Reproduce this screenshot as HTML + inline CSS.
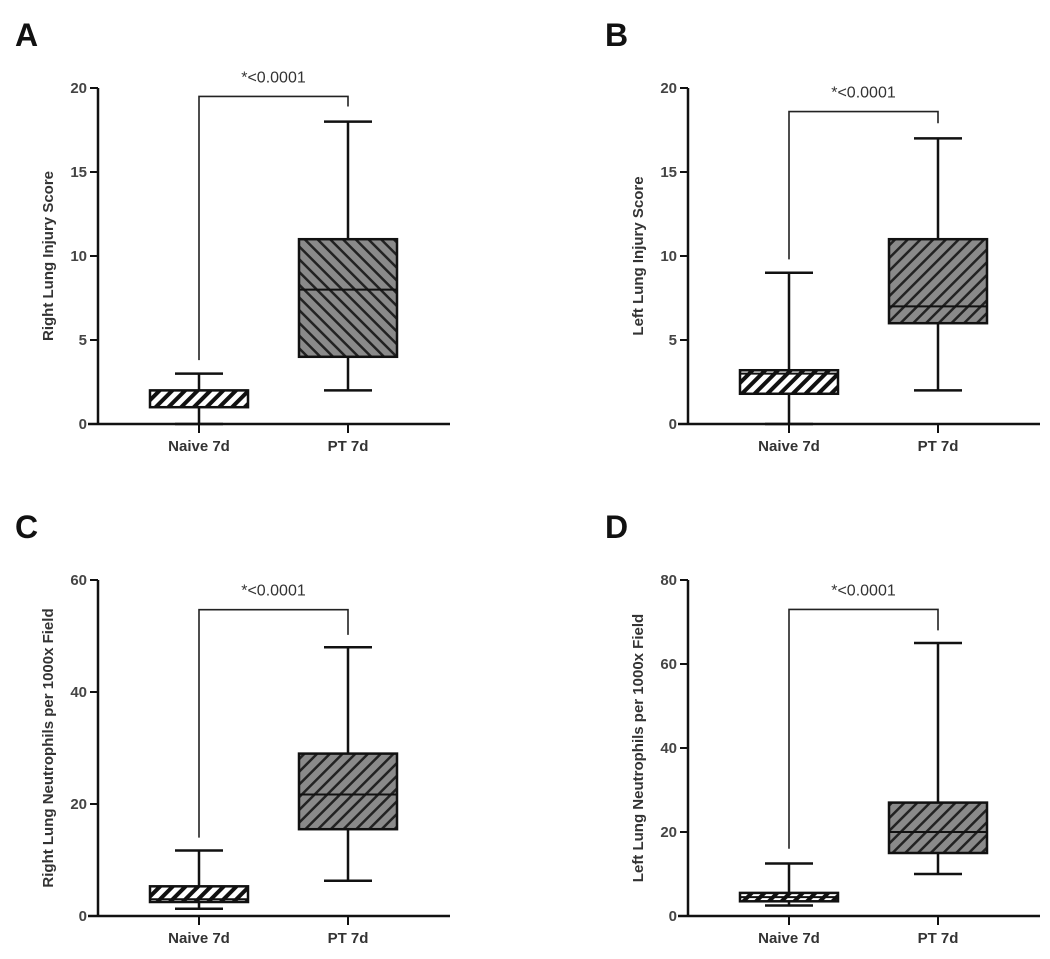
<!DOCTYPE html>
<html><head><meta charset="utf-8"><style>
html,body{margin:0;padding:0;background:#fff;width:1050px;height:959px;overflow:hidden}
svg{display:block}
text{font-family:"Liberation Sans",sans-serif}
</style></head><body>
<svg id="fig" width="1050" height="959" viewBox="0 0 1050 959">
<defs>
<pattern id="hatchW" patternUnits="userSpaceOnUse" width="9" height="9" patternTransform="rotate(45)">
<rect width="9" height="9" fill="#fff"/><rect x="0" y="0" width="4" height="9" fill="#111"/></pattern>
<pattern id="hatchG" patternUnits="userSpaceOnUse" width="9" height="9" patternTransform="rotate(-45)">
<rect width="9" height="9" fill="#8a8a8a"/><rect x="0" y="0" width="2.5" height="9" fill="#222"/></pattern>
<pattern id="hatchG2" patternUnits="userSpaceOnUse" width="9" height="9" patternTransform="rotate(45)">
<rect width="9" height="9" fill="#8a8a8a"/><rect x="0" y="0" width="2.5" height="9" fill="#222"/></pattern>
</defs>
</svg>
<script>
const panelLetters = ["A","B","C","D"];
const yTitles = ["Right Lung Injury Score","Left Lung Injury Score","Right Lung Neutrophils per 1000x Field","Left Lung Neutrophils per 1000x Field"];
const yMaxes = [20,20,60,80];
const yTickSteps = [5,5,20,20];
const categories = ["Naive 7d","PT 7d"];
// [min,q1,median,q3,max]
const naiveStats = [[0,1,2,2,3],[0,1.8,3,3.2,9],[1.3,2.5,3,5.3,11.7],[2.5,3.5,4.5,5.5,12.5]];
const ptStats = [[2,4,8,11,18],[2,6,7,11,17],[6.3,15.5,21.7,29,48],[10,15,20,27,65]];
// bracket [height, left leg end, right leg end]
const brackets = [[19.5,3.8,18.9],[18.6,9.8,17.9],[54.7,14,50.2],[73,16,68]];
const pLabel = "*<0.0001";

const svg = document.getElementById('fig');
const NS = "http://www.w3.org/2000/svg";
function mk(tag, attrs, parent){const e=document.createElementNS(NS,tag);for(const k in attrs)e.setAttribute(k,attrs[k]);(parent||svg).appendChild(e);return e;}

const origins = [[98,424],[688,424],[98,916],[688,916]];
const plotH = 336;
const xEnd = [450,1040,450,1040];
const fills = [["url(#hatchW)","url(#hatchG)"],["url(#hatchW)","url(#hatchG2)"],["url(#hatchW)","url(#hatchG2)"],["url(#hatchW)","url(#hatchG2)"]];

panelLetters.forEach((L,i)=>{
  const [ox,oy]=origins[i];
  const g=mk('g',{});
  
  
  const yS=v=>oy-v/yMaxes[i]*plotH;
  const xS=c=>ox+101+c*149;
  const lt=mk('text',{x:ox-83,y:oy-plotH-42,'font-size':32,'font-weight':'bold',fill:'#111'},g);
  lt.textContent=L;
  
  
  const ya=mk('line',{x1:ox,y1:oy+1,x2:ox,y2:yS(yMaxes[i]),stroke:'#111','stroke-width':2.5},g);
  
  
  const xa=mk('line',{x1:ox-10,y1:oy,x2:xEnd[i],y2:oy,stroke:'#111','stroke-width':2.5},g);
  
  
  for(let v=0;v<=yMaxes[i];v+=yTickSteps[i]){
    mk('line',{x1:ox-8,y1:yS(v),x2:ox,y2:yS(v),stroke:'#111','stroke-width':2},g);
    const t=mk('text',{x:ox-11,y:yS(v)+5,'font-size':15,'font-weight':'bold',fill:'#444','text-anchor':'end'},g);
    t.textContent=v;
    
    
  }
  const yt=mk('text',{x:0,y:0,'font-size':15,'font-weight':'bold',fill:'#333','text-anchor':'middle',transform:`translate(${ox-45},${oy-plotH/2}) rotate(-90)`},g);
  yt.textContent=yTitles[i];
  
  
  [naiveStats[i],ptStats[i]].forEach((s,c)=>{
    const cx=xS(c);
    mk('line',{x1:cx,y1:oy,x2:cx,y2:oy+9,stroke:'#111','stroke-width':2},g);
    const xl=mk('text',{x:cx,y:oy+27,'font-size':15,'font-weight':'bold',fill:'#333','text-anchor':'middle'},g);
    xl.textContent=categories[c];
    
    
    const bg=mk('g',{},g);
    
    
    mk('line',{x1:cx,y1:yS(s[0]),x2:cx,y2:yS(s[4]),stroke:'#111','stroke-width':2.5},bg);
    mk('line',{x1:cx-24,y1:yS(s[4]),x2:cx+24,y2:yS(s[4]),stroke:'#111','stroke-width':2.5},bg);
    mk('line',{x1:cx-24,y1:yS(s[0]),x2:cx+24,y2:yS(s[0]),stroke:'#111','stroke-width':2.5},bg);
    mk('rect',{x:cx-49,y:yS(s[3]),width:98,height:yS(s[1])-yS(s[3]),fill:fills[i][c],stroke:'#111','stroke-width':2.5},bg);
    mk('line',{x1:cx-49,y1:yS(s[2]),x2:cx+49,y2:yS(s[2]),stroke:'#111','stroke-width':2},bg);
  });
  const b=brackets[i];
  const br=mk('polyline',{points:`${xS(0)},${yS(b[1])} ${xS(0)},${yS(b[0])} ${xS(1)},${yS(b[0])} ${xS(1)},${yS(b[2])}`,fill:'none',stroke:'#222','stroke-width':1.6},g);
  
  
  const pt=mk('text',{x:(xS(0)+xS(1))/2,y:yS(b[0])-14,'font-size':16,fill:'#333','text-anchor':'middle'},g);
  pt.textContent=pLabel;
  
  
});
</script>
</body></html>
